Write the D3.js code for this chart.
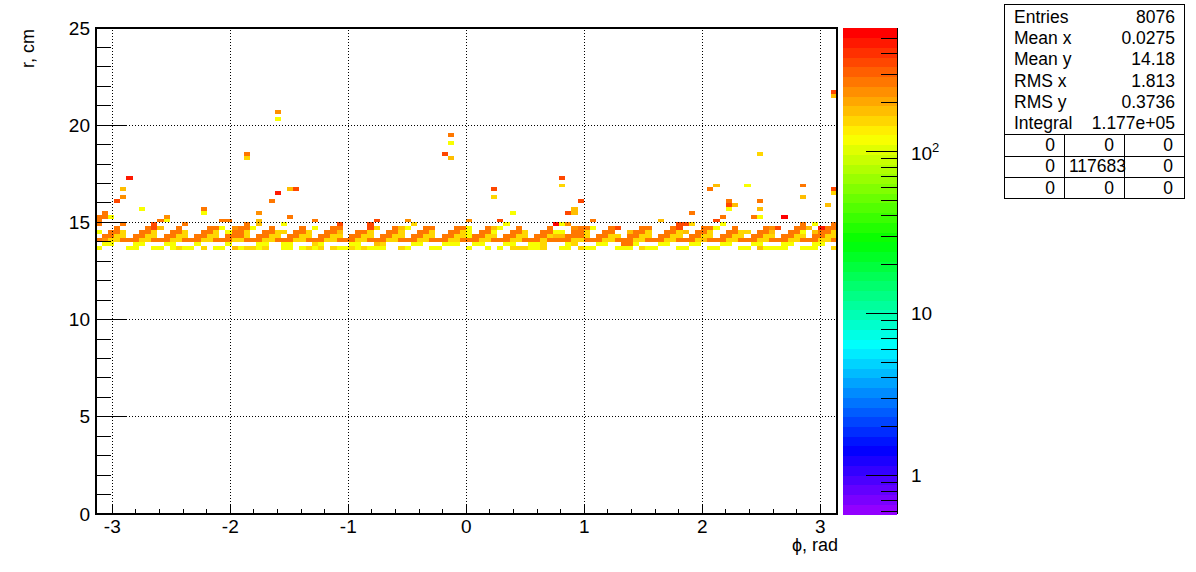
<!DOCTYPE html>
<html><head><meta charset="utf-8">
<script src="https://cdn.jsdelivr.net/npm/d3@7"></script>
<style>html,body{margin:0;padding:0;background:#fff}svg{display:block}text{font-family:"Liberation Sans",Arial,sans-serif;fill:#000}</style>
</head><body><svg id="c" width="1196" height="572"></svg>
<script>
const binsX = 120, binsY = 125, rBin = 0.2;
const xTicks = [-3,-2,-1,0,1,2,3];
const yTicks = [0,5,10,15,20,25];
// z counts, [phi bin, count], one list per r bin
const row68 = [[0,115],[5,115],[6,115],[9,115],[10,115],[12,115],[13,150],[14,115],[15,115],[17,150],[19,115],[20,115],[22,190],[23,115],[24,150],[25,150],[26,115],[27,150],[30,115],[31,115],[33,115],[34,150],[35,115],[36,150],[38,150],[39,115],[40,115],[41,150],[42,115],[43,150],[44,115],[45,115],[46,115],[49,150],[50,115],[54,115],[55,115],[60,115],[63,115],[65,115],[67,150],[68,150],[69,150],[70,115],[71,115],[72,150],[75,115],[76,115],[78,150],[79,115],[80,115],[84,115],[85,115],[86,115],[88,150],[89,115],[90,115],[94,115],[95,115],[99,115],[100,115],[104,115],[105,115],[107,190],[108,115],[109,115],[110,115],[111,115],[114,115],[115,115],[116,115],[119,150]];
const row69 = [[1,115],[2,115],[6,115],[7,115],[11,115],[12,115],[16,115],[21,115],[26,115],[27,115],[30,115],[31,115],[35,150],[36,115],[41,115],[42,115],[45,190],[46,150],[51,115],[52,115],[56,115],[57,115],[58,115],[61,115],[62,115],[66,115],[67,115],[70,115],[71,115],[72,150],[76,115],[77,150],[81,115],[82,115],[85,270],[86,270],[87,115],[91,115],[92,115],[96,115],[97,115],[101,115],[102,115],[106,115],[107,115],[111,115],[112,115],[116,115],[117,115]];
const row70 = [[0,270],[1,230],[2,150],[3,150],[4,270],[5,270],[6,270],[7,150],[8,150],[9,270],[10,270],[11,270],[12,150],[13,150],[14,270],[15,270],[16,270],[17,150],[18,150],[19,270],[20,270],[21,270],[22,150],[23,150],[24,270],[25,270],[26,270],[27,150],[28,150],[29,270],[30,270],[31,270],[32,150],[33,150],[34,270],[35,270],[36,270],[37,150],[38,150],[39,270],[40,270],[41,270],[42,150],[43,150],[44,270],[45,270],[46,270],[47,150],[48,150],[49,270],[50,270],[51,270],[52,150],[53,150],[54,270],[55,270],[56,270],[57,150],[58,150],[59,270],[60,270],[61,270],[62,150],[63,150],[64,270],[65,270],[66,270],[67,150],[68,150],[69,270],[70,270],[71,270],[72,150],[73,270],[74,270],[75,270],[76,270],[77,150],[78,150],[79,270],[80,270],[81,270],[82,150],[83,150],[84,270],[85,270],[86,270],[87,150],[88,150],[89,270],[90,270],[91,270],[92,150],[93,150],[94,270],[95,270],[96,270],[97,150],[98,190],[99,270],[100,270],[101,270],[102,150],[103,150],[104,270],[105,270],[106,270],[107,150],[108,150],[109,270],[110,270],[111,270],[112,150],[113,150],[114,270],[115,270],[116,270],[117,150],[118,150],[119,270]];
const row71 = [[1,270],[2,270],[3,150],[4,150],[6,270],[7,270],[8,150],[9,150],[11,270],[12,270],[13,150],[14,150],[16,270],[17,270],[18,150],[19,150],[21,270],[22,270],[23,270],[24,150],[26,270],[27,270],[28,150],[29,150],[31,270],[32,270],[33,150],[34,150],[36,270],[37,270],[38,150],[39,150],[41,270],[42,270],[43,150],[44,150],[46,270],[47,270],[48,150],[49,150],[51,270],[52,270],[53,150],[54,150],[56,270],[57,270],[58,150],[59,150],[60,115],[61,270],[62,270],[63,150],[64,150],[66,270],[67,270],[68,150],[69,150],[71,270],[72,270],[73,150],[74,190],[75,190],[76,270],[77,270],[78,270],[79,150],[81,270],[82,270],[83,150],[84,150],[86,270],[87,270],[88,150],[89,150],[91,270],[92,270],[93,150],[94,150],[96,270],[97,270],[98,150],[99,150],[101,270],[102,270],[103,150],[104,150],[106,270],[107,270],[108,150],[109,150],[111,270],[112,270],[113,150],[114,150],[116,270],[117,270],[118,150],[119,150]];
const row72 = [[0,115],[2,270],[3,270],[4,150],[7,270],[8,270],[9,150],[12,270],[13,270],[14,150],[17,270],[18,270],[19,150],[21,115],[22,270],[23,270],[24,150],[27,270],[28,270],[29,150],[30,150],[32,270],[33,270],[34,150],[37,270],[38,270],[39,190],[42,270],[43,270],[44,150],[47,270],[48,270],[49,150],[52,270],[53,270],[54,150],[57,270],[58,270],[59,150],[60,115],[62,270],[63,270],[64,115],[67,270],[68,270],[69,150],[72,270],[73,270],[74,115],[75,115],[77,270],[78,270],[79,150],[82,270],[83,270],[86,190],[87,270],[88,270],[89,150],[92,270],[93,270],[94,150],[95,190],[97,270],[98,270],[99,150],[102,270],[103,270],[104,150],[105,150],[107,270],[108,270],[109,190],[112,270],[113,270],[114,115],[116,190],[117,270],[118,270],[119,150]];
const row73 = [[3,270],[8,270],[9,340],[10,190],[13,270],[18,270],[19,270],[20,115],[22,230],[23,270],[24,270],[25,115],[28,270],[33,270],[35,115],[38,270],[39,270],[44,340],[45,150],[48,270],[49,190],[50,115],[53,270],[54,270],[58,270],[59,270],[60,115],[63,270],[64,190],[65,115],[68,270],[73,270],[77,230],[78,270],[79,270],[80,115],[83,270],[84,340],[88,270],[89,270],[93,270],[94,340],[98,270],[99,270],[100,115],[103,270],[108,270],[109,230],[110,340],[113,270],[114,270],[115,190],[117,440],[118,270],[119,270]];
const row74 = [[0,270],[4,270],[9,340],[14,270],[24,270],[26,190],[30,115],[39,340],[44,340],[51,150],[66,115],[74,520],[75,115],[76,230],[94,340],[95,340],[96,150],[101,115],[114,270],[116,115],[119,270]];
const row75 = [[0,270],[10,270],[11,115],[20,270],[21,270],[26,190],[35,270],[45,340],[50,230],[60,230],[65,340],[80,270],[91,190],[100,340]];
const row76 = [[0,270],[1,270],[2,115],[11,230],[31,270],[101,270],[106,270],[107,115],[111,520]];
const row77 = [[1,270],[17,115],[26,230],[67,115],[76,340],[77,190],[96,270]];
// sparse cells above the band: [phi bin, r bin, count]
const outliers = [[7,78,115],[17,78,270],[77,78,190],[102,78,115],[107,78,190],[102,79,340],[103,79,190],[118,79,190],[3,80,340],[28,80,270],[78,80,340],[102,80,270],[107,80,270],[4,81,230],[64,81,150],[114,81,190],[29,82,440],[119,82,150],[4,83,190],[31,83,190],[32,83,340],[64,83,340],[99,83,270],[119,83,340],[75,84,150],[100,84,190],[105,84,115],[114,84,270],[5,86,440],[75,86,340],[24,91,150],[57,91,190],[107,92,150],[24,92,270],[56,92,340],[57,95,115],[57,97,270],[29,101,115],[29,103,230],[119,107,190],[119,108,340]];
const rows = [[68,row68],[69,row69],[70,row70],[71,row71],[72,row72],[73,row73],[74,row74],[75,row75],[76,row76],[77,row77]];
const cells = outliers.concat(...rows.map(([j,l])=>l.map(([i,v])=>[i,j,v])));

const statLabels = ["Entries","Mean x","Mean y","RMS x","RMS y","Integral"];
const statValues = ["8076","0.0275","14.18","1.813","0.3736","1.177e+05"];
const overflowRows = [["0","0","0"],["0","117683","0"],["0","0","0"]];

const svg = d3.select("#c");
const L=95.6,R=837,T=28,B=514;
const x = d3.scaleLinear().domain([-Math.PI,Math.PI]).range([L,R]);
const y = d3.scaleLinear().domain([0,25]).range([B,T]);
const zMin=0.577,zMax=577,nCol=50;
const zY = d3.scaleLog().domain([zMin,zMax]).range([514,28]);
const bandOf = z => Math.min(nCol-1,Math.floor((Math.log10(z)-Math.log10(zMin))/(Math.log10(zMax)-Math.log10(zMin))*nCol));
const colorOf = k => d3.hsl(280-5.6*(k+1),1,.5).formatHex();
const binX = i => -Math.PI+i*2*Math.PI/binsX;

svg.append("g").attr("shape-rendering","crispEdges").selectAll("rect").data(cells).join("rect")
 .attr("x",d=>x(binX(d[0])))
 .attr("width",d=>x(binX(d[0]+1))-x(binX(d[0])))
 .attr("y",d=>y((d[1]+1)*rBin))
 .attr("height",d=>y(d[1]*rBin)-y((d[1]+1)*rBin))
 .attr("fill",d=>colorOf(bandOf(d[2])));

// grid
const grid=svg.append("g").attr("stroke","#000").attr("stroke-dasharray","1 2").attr("shape-rendering","crispEdges");
xTicks.forEach(t=>grid.append("line").attr("x1",x(t)).attr("x2",x(t)).attr("y1",B).attr("y2",T));
yTicks.slice(1,-1).forEach(t=>grid.append("line").attr("x1",L).attr("x2",R).attr("y1",y(t)).attr("y2",y(t)));

// ticks: left and bottom only
const ax=svg.append("g").attr("stroke","#000").attr("shape-rendering","crispEdges");
d3.range(-15,16).forEach(n=>{const v=n/5,maj=n%5===0,len=maj?10:5;
 ax.append("line").attr("x1",x(v)).attr("x2",x(v)).attr("y1",B).attr("y2",B-len);});
d3.range(0,26).forEach(v=>{const maj=v%5===0,len=maj?30:15;
 ax.append("line").attr("x1",L).attr("x2",L+len).attr("y1",y(v)).attr("y2",y(v));});
svg.append("rect").attr("x",L).attr("y",T).attr("width",R-L).attr("height",B-T).attr("fill","none").attr("stroke","#000").attr("stroke-width",2).attr("shape-rendering","crispEdges");

const lab=svg.append("g").attr("font-size",19);
xTicks.forEach(t=>lab.append("text").attr("x",x(t)).attr("y",533).attr("text-anchor","middle").text(t));
yTicks.forEach(t=>lab.append("text").attr("x",90).attr("y",y(t)+6.5).attr("text-anchor","end").text(t));
lab.append("text").attr("x",838).attr("y",551).attr("text-anchor","end").attr("font-size",18).text("ϕ, rad");
lab.append("text").attr("transform","translate(34,68) rotate(-90)").attr("text-anchor","start").attr("font-size",18).text("r, cm");

// palette
const CL=843,CR=897;
const band=d3.scaleLinear().domain([0,nCol]).range([514,28]);
svg.append("g").attr("shape-rendering","crispEdges").selectAll("rect").data(d3.range(nCol)).join("rect")
 .attr("x",CL).attr("width",CR-CL).attr("y",k=>band(k+1)).attr("height",k=>band(k)-band(k+1)+.5).attr("fill",colorOf);
const cax=svg.append("g").attr("stroke","#000").attr("shape-rendering","crispEdges");
cax.append("line").attr("x1",CR).attr("x2",CR).attr("y1",T).attr("y2",B);
[0.6,0.7,0.8,0.9,1,2,3,4,5,6,7,8,9,10,20,30,40,50,60,70,80,90,100,200,300,400,500].forEach(z=>{
 const len=(z===1||z===10||z===100)?31:16;
 cax.append("line").attr("x1",CR-len).attr("x2",CR).attr("y1",zY(z)).attr("y2",zY(z));});
lab.append("text").attr("x",911).attr("y",481.5).text("1");
lab.append("text").attr("x",911).attr("y",319.5).text("10");
lab.append("text").attr("x",911).attr("y",160).text("10");
lab.append("text").attr("x",932).attr("y",152).attr("font-size",13).text("2");

// stats
const st=svg.append("g");
st.append("rect").attr("x",1004.5).attr("y",4.5).attr("width",180).attr("height",194).attr("fill","#fff").attr("stroke","#000").attr("shape-rendering","crispEdges");
const sRow=d3.scaleBand().domain(d3.range(6)).range([6,134]);
statLabels.forEach((s,i)=>{
 st.append("text").attr("x",1014).attr("y",sRow(i)+sRow.bandwidth()/2+6).attr("font-size",17.5).text(s);
 st.append("text").attr("x",1175).attr("y",sRow(i)+sRow.bandwidth()/2+6).attr("font-size",17.5).attr("text-anchor","end").text(statValues[i]);
});
const oY=[134,155.5,177,198.5],oX=[1064.5,1124.5],oT=[1055,1114,1173];
const ol=st.append("g").attr("stroke","#000").attr("shape-rendering","crispEdges");
oY.slice(0,3).forEach(v=>ol.append("line").attr("x1",1004.5).attr("x2",1184.5).attr("y1",Math.round(v)+.5).attr("y2",Math.round(v)+.5));
oX.forEach(v=>ol.append("line").attr("x1",v).attr("x2",v).attr("y1",134).attr("y2",198));
overflowRows.forEach((r,i)=>r.forEach((s,j)=>{
 st.append("text").attr("x",s.length>1?1126:oT[j]).attr("y",oY[i]+16.5).attr("font-size",17.5).attr("text-anchor","end").text(s);
}));
</script></body></html>
